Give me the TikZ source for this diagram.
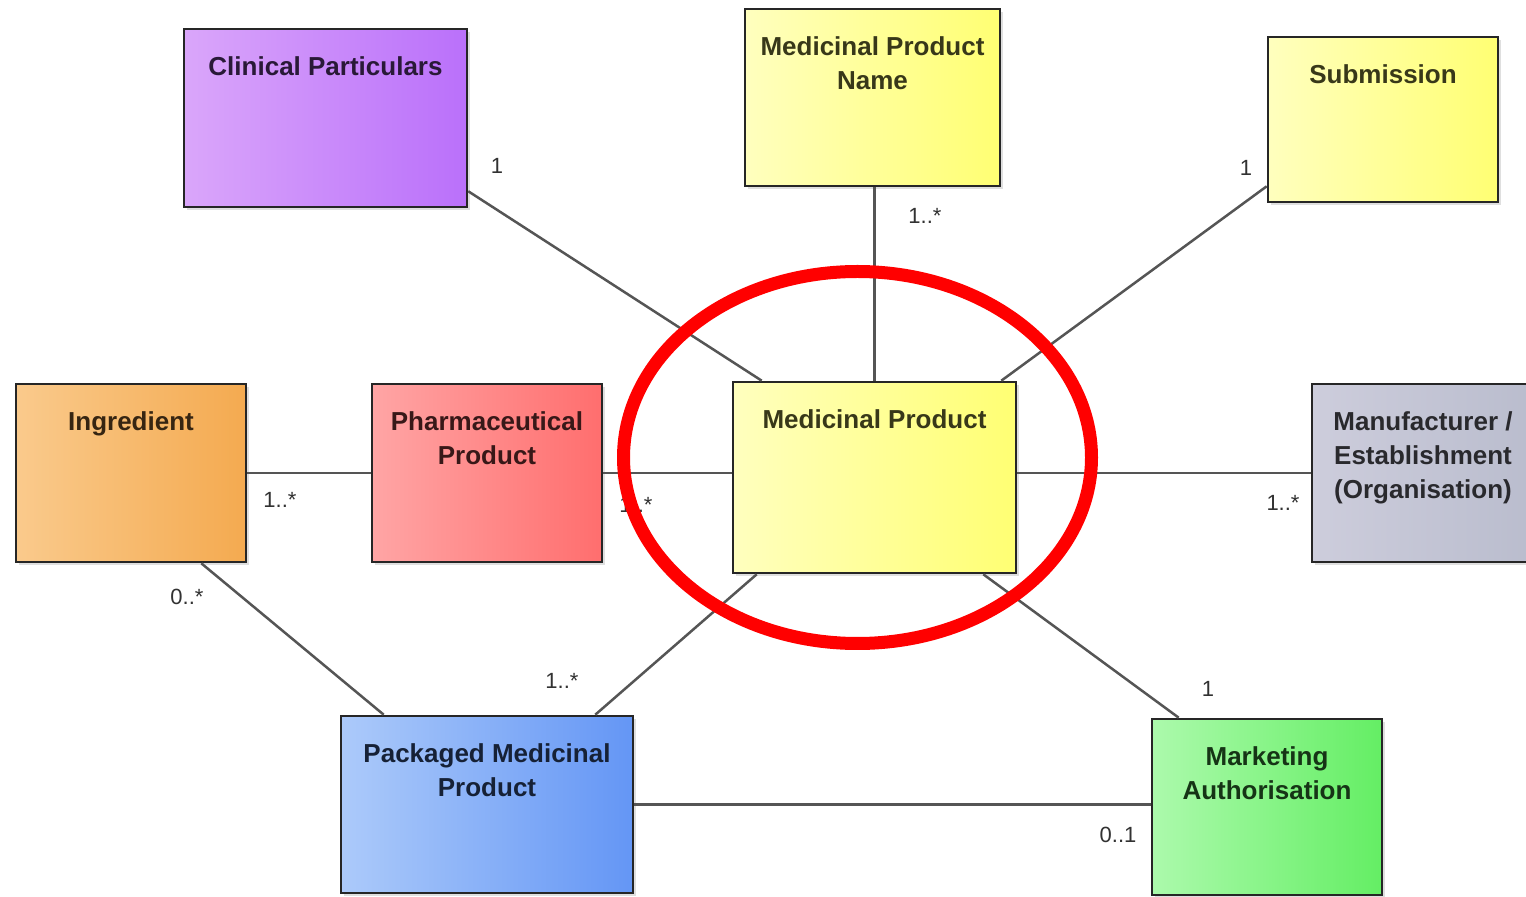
\documentclass[tikz,border=0pt]{standalone}
\usepackage{fontspec}
\setmainfont{Liberation Sans}
\usetikzlibrary{fit,shadows}
\definecolor{cpL}{RGB}{218,166,250}\definecolor{cpR}{RGB}{186,112,250}
\definecolor{yL}{RGB}{255,255,190}\definecolor{yR}{RGB}{255,255,115}
\definecolor{inL}{RGB}{250,202,140}\definecolor{inR}{RGB}{244,170,80}
\definecolor{phL}{RGB}{255,165,165}\definecolor{phR}{RGB}{255,110,110}
\definecolor{mfL}{RGB}{205,205,220}\definecolor{mfR}{RGB}{185,188,205}
\definecolor{pkL}{RGB}{172,202,250}\definecolor{pkR}{RGB}{100,150,245}
\definecolor{maL}{RGB}{172,250,172}\definecolor{maR}{RGB}{100,238,100}
\definecolor{linkc}{RGB}{85,85,85}
\definecolor{multc}{RGB}{50,50,50}
\tikzset{
  umlbox/.style={draw=black!85, line width=1.3pt, inner sep=0pt, rectangle,
    drop shadow={opacity=0.25, shadow xshift=1.5pt, shadow yshift=-1.5pt}},
  title/.style={anchor=north, inner sep=0pt, align=center, font=\bfseries\fontsize{13}{17}\selectfont},
  link/.style={draw=linkc, line width=1.25pt},
  mult/.style={text=multc, inner sep=0pt, font=\fontsize{11}{13}\selectfont},
  ring/.style={draw=red, line width=6.5pt}
}
\begin{document}
\begin{tikzpicture}[x=0.5pt,y=-0.5pt]
\clip (0,0) rectangle (1526,897);
\fill[white] (0,0) rectangle (1526,897);
% boxes
\node[umlbox, left color=cpL, right color=cpR, fit={(184,29) (467,207)}] (cp) {};
\node[umlbox, left color=yL, right color=yR, fit={(745,9) (1000,186)}] (mpn) {};
\node[umlbox, left color=yL, right color=yR, fit={(1268,37) (1498,202)}] (sub) {};
\node[umlbox, left color=inL, right color=inR, fit={(16,384) (246,562)}] (ing) {};
\node[umlbox, left color=phL, right color=phR, fit={(372,384) (602,562)}] (ph) {};
\node[umlbox, left color=yL, right color=yR, fit={(733,382) (1016,573)}] (mp) {};
\node[umlbox, left color=mfL, right color=mfR, fit={(1312,384) (1540,562)}] (mf) {};
\node[umlbox, left color=pkL, right color=pkR, fit={(341,716) (633,893)}] (pk) {};
\node[umlbox, left color=maL, right color=maR, fit={(1152,719) (1382,895)}] (ma) {};
% titles
\node[title, text=cpR!22!black] (tcp) at ([yshift=-14.5pt]cp.north) {Clinical Particulars};
\node[title, text=yR!22!black] (tmpn) at ([yshift=-14.5pt]mpn.north) {Medicinal Product\\Name};
\node[title, text=yR!22!black] (tsub) at ([yshift=-14.5pt]sub.north) {Submission};
\node[title, text=inR!22!black] (ting) at ([yshift=-14.5pt]ing.north) {Ingredient};
\node[title, text=phR!22!black] (tph) at ([yshift=-14.5pt]ph.north) {Pharmaceutical\\Product};
\node[title, text=yR!22!black] (tmp) at ([yshift=-14.5pt]mp.north) {Medicinal Product};
\node[title, text=mfR!22!black] (tmf) at ([xshift=-1.5pt,yshift=-14.5pt]mf.north) {Manufacturer /\\Establishment\\(Organisation)};
\node[title, text=pkR!22!black] (tpk) at ([yshift=-14.5pt]pk.north) {Packaged Medicinal\\Product};
\node[title, text=maR!22!black] (tma) at ([yshift=-14.5pt]ma.north) {Marketing\\Authorisation};
% connectors
\draw[link] ([yshift=8.5pt]cp.south east) -- ([xshift=15pt]mp.north west);
\draw[link] (mpn.south -| mp.north) -- (mp.north);
\draw[link] ([yshift=8.5pt]sub.south west) -- ([xshift=-8pt]mp.north east);
\draw[link] (ing.east) -- (ph.west);
\draw[link] (ph.east) -- (ph.east -| mp.west);
\draw[link] (mf.west |- ph.east) coordinate (mfin) -- (mfin -| mp.east);
\draw[link] ([xshift=-23pt]ing.south east) -- ([xshift=22pt]pk.north west);
\draw[link] ([xshift=12.5pt]mp.south west) -- ([xshift=-19.5pt]pk.north east);
\draw[link] ([xshift=-17pt]mp.south east) -- ([xshift=14pt]ma.north west);
\draw[link] (pk.east) -- (pk.east -| ma.west);
% multiplicities
\node[mult] (m1) at (497,166) {1};
\node[mult] (m2) at (925,216) {1..*};
\node[mult] (m3) at (1246,168) {1};
\node[mult] (m4) at (280,500) {1..*};
\node[mult] (m5) at (636,505) {1..*};
\node[mult] (m6) at (1283,503) {1..*};
\node[mult] (m7) at (187,597) {0..*};
\node[mult] (m8) at (562,681) {1..*};
\node[mult] (m9) at (1208,689) {1};
\node[mult] (m10) at (1118,835) {0..1};
% highlight ring
\draw[ring] (857.5,457.5) ellipse [x radius=117pt, y radius=93pt];
\end{tikzpicture}
\end{document}
